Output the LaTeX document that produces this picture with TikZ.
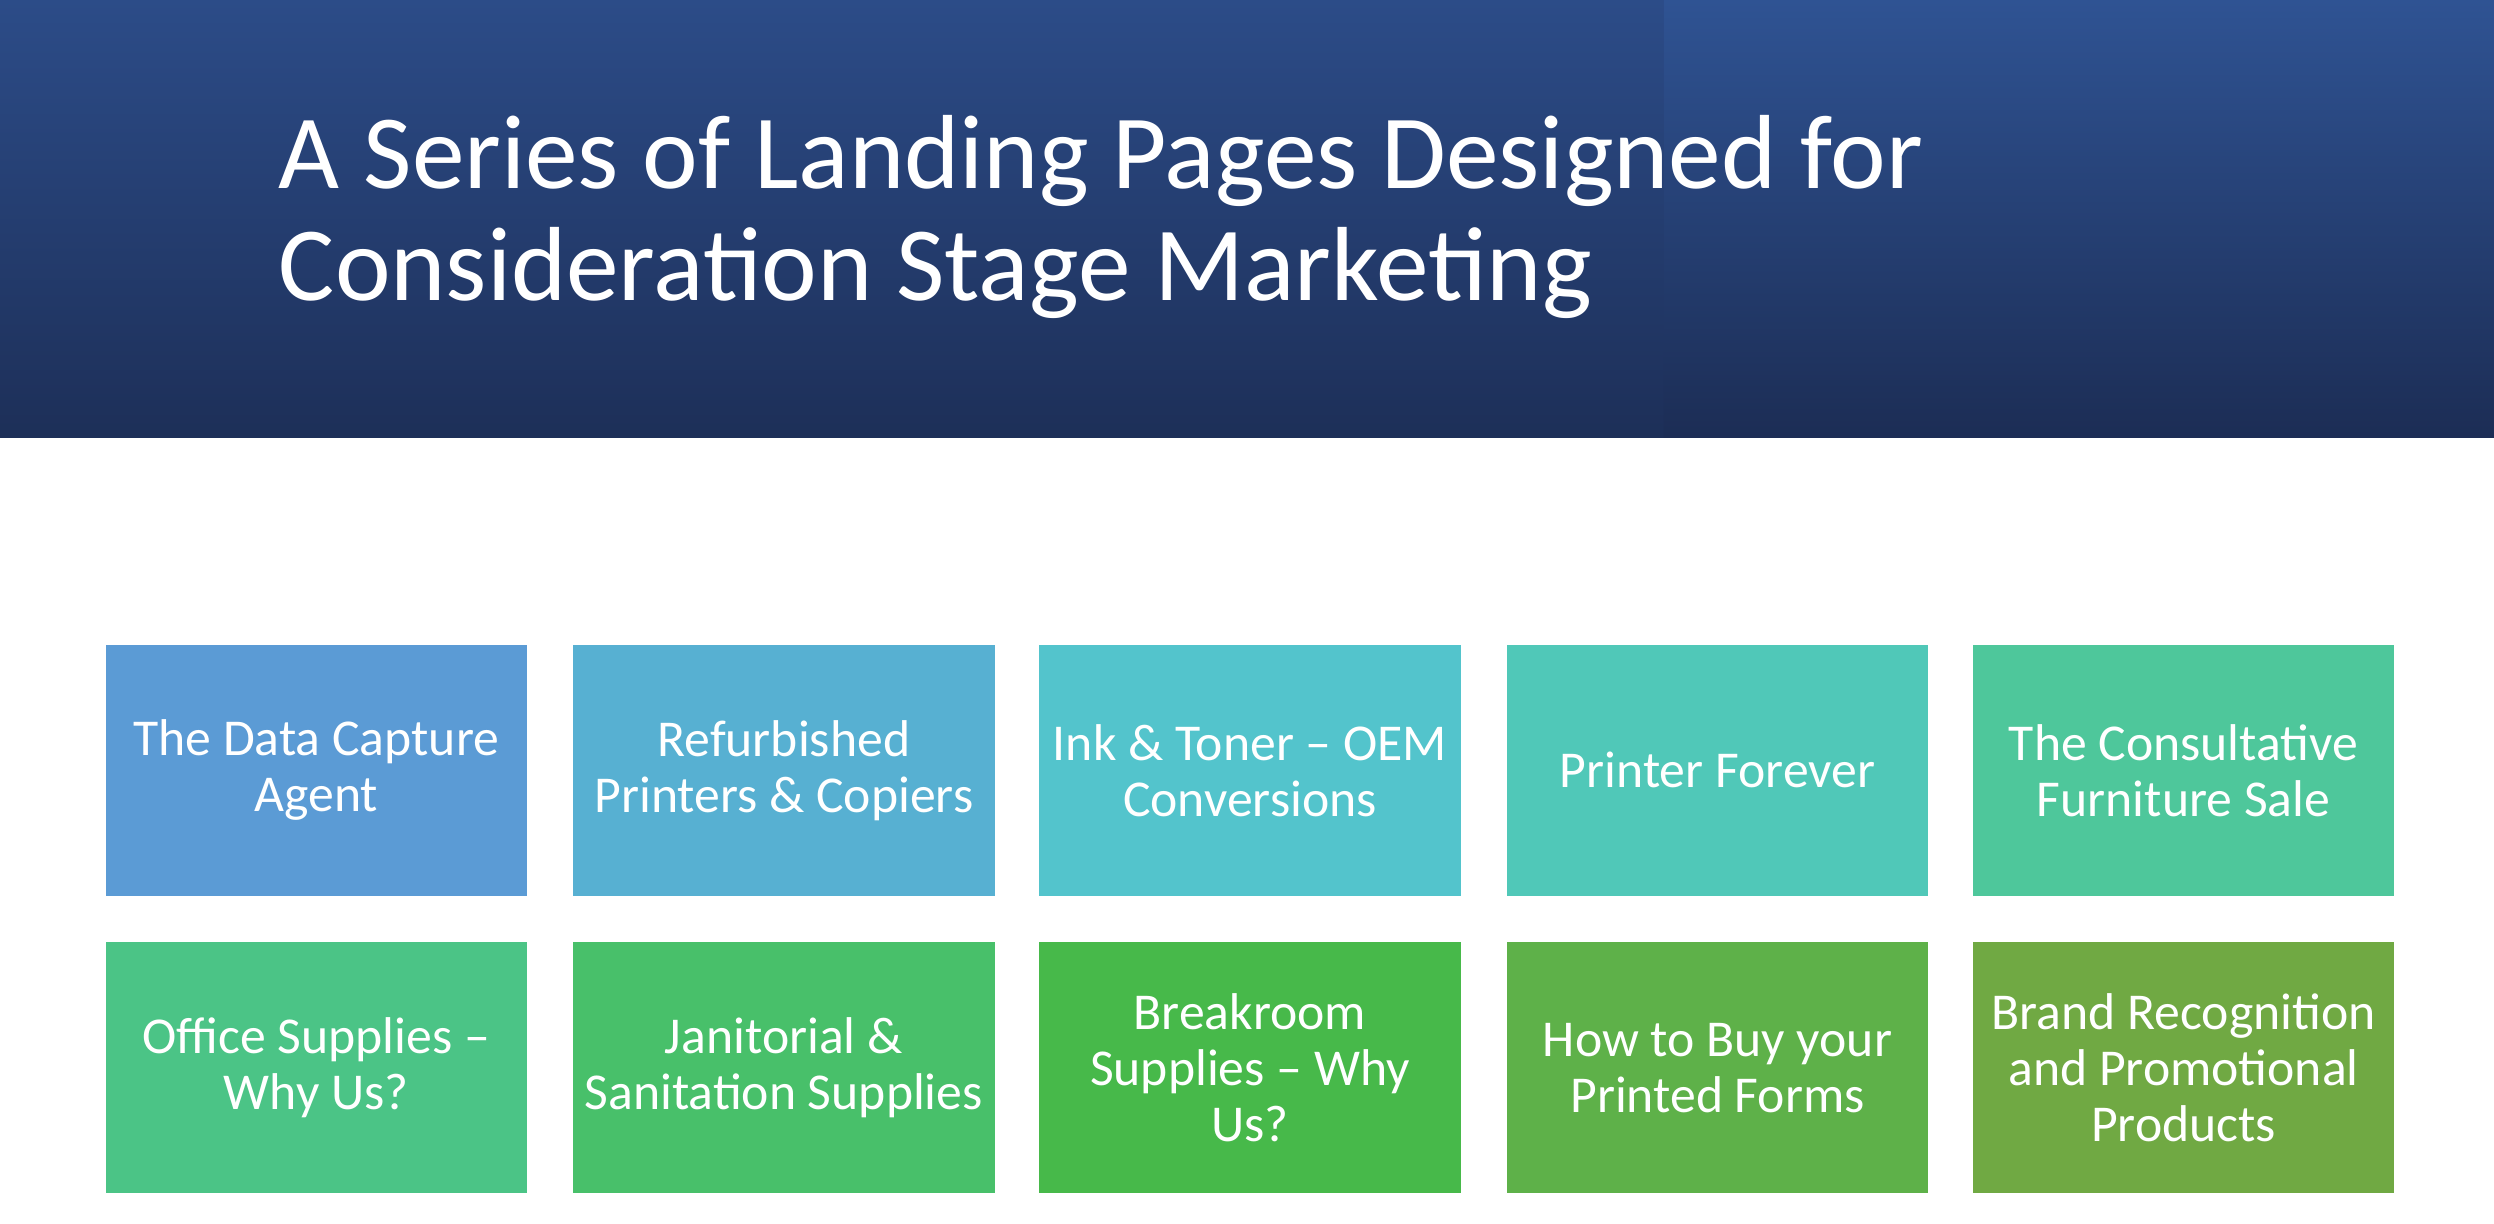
\documentclass[tikz,border=0pt]{standalone}
\usepackage{fontspec}
\setmainfont{Carlito}
\begin{document}
\begin{tikzpicture}
  [x=0.02cm,y=-0.02cm,
  tile/.style={anchor=north west,minimum width=5.3cm,minimum height=3.16cm,
    inner sep=0pt,text=white,align=center,
    font=\fontsize{18.5}{20}\selectfont}]

  \definecolor{hdtop}{HTML}{2C4C88}
  \definecolor{hdbot}{HTML}{1D2F58}
  \definecolor{hrtop}{HTML}{2F5393}
  \definecolor{hrbot}{HTML}{1C2D55}
  \useasboundingbox (0,0) rectangle (1568,769);
  \fill[white] (0,0) rectangle (1568,769);
  \shade[top color=hdtop,bottom color=hdbot] (0,0) rectangle (1046,275);
  \shade[top color=hrtop,bottom color=hrbot] (1046,0) rectangle (1568,275);

  \node (title) [anchor=north west,inner sep=0pt,text=white,align=left,
    font=\fontsize{37.7}{40}\selectfont] at (175,72)
    {A Series of Landing Pages Designed for\\Consideration Stage Marketing};

  % first row
  \node (dca) [tile,fill={rgb,255:red,91;green,155;blue,213}] at (66,405) {The Data Capture\\Agent};
  \node (rpc) [tile,fill={rgb,255:red,87;green,176;blue,210}] at (360,405) {Refurbished\\Printers \& Copiers};
  \node (ink) [tile,fill={rgb,255:red,83;green,196;blue,204}] at (653,405) {Ink \& Toner – OEM\\Conversions};
  \node (pf)  [tile,fill={rgb,255:red,80;green,200;blue,184}] at (947,405) {Printer Forever};
  \node (cfs) [tile,fill={rgb,255:red,78;green,199;blue,155}] at (1240,405) {The Consultative\\Furniture Sale};

  % second row
  \node (os)  [tile,fill={rgb,255:red,75;green,196;blue,134}] at (66,592) {Office Supplies –\\Why Us?};
  \node (jan) [tile,fill={rgb,255:red,72;green,192;blue,106}] at (360,592) {Janitorial \&\\Sanitation Supplies};
  \node (brk) [tile,fill={rgb,255:red,71;green,185;blue,74}] at (653,592) {Breakroom\\Supplies – Why\\Us?};
  \node (pfm) [tile,fill={rgb,255:red,94;green,177;blue,73}] at (947,592) {How to Buy your\\Printed Forms};
  \node (brp) [tile,fill={rgb,255:red,112;green,169;blue,67}] at (1240,592) {Brand Recognition\\and Promotional\\Products};
\end{tikzpicture}
\end{document}
